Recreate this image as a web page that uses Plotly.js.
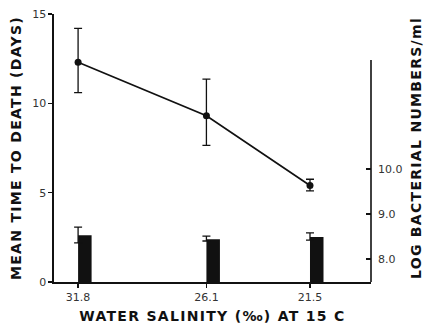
<!DOCTYPE html>
<html>
<head>
<meta charset="utf-8">
<script src="https://cdn.plot.ly/plotly-3.0.1.min.js"></script>
<style>
html,body{margin:0;padding:0;background:#fff;}
#chart{width:424px;height:331px;}
#chart .xtitle, #chart .ytitle, #chart .y2title{letter-spacing:1.3px;}
</style>
</head>
<body>
<div id="chart"></div>
<script>
// Data
const salinity = [31.8, 26.1, 21.5];
const salinityLabels = ['31.8', '26.1', '21.5'];
const deathMean = [12.3, 9.3, 5.4];
const deathUpper = [14.2, 11.35, 5.75];
const deathLower = [10.6, 7.65, 5.1];
const bactMean = [8.53, 8.44, 8.49];
const bactUpper = [8.71, 8.51, 8.58];
const bactLower = [8.36, 8.40, 8.42];
const leftTicks = [0, 5, 10, 15];
const rightTicks = [8, 9, 10];
const rightTickLabels = ['8.0', '9.0', '10.0'];

const diff = (a, b) => a.map((v, i) => v - b[i]);

const ink = '#111';
const tickFont = {family: 'DejaVu Sans', size: 11, color: '#333'};
const titleFont = {family: 'DejaVu Sans', size: 14, color: ink, weight: 'bold'};

// right axis scale: 8.0 at bottom offset, axis line drawn only up to Y2_LINE_TOP
const Y2_MIN = 7.489, Y2_MAX = 13.445, Y2_LINE_TOP = 12.42;

const traces = [
  {
    type: 'bar', x: salinity, y: bactMean, xaxis: 'x', yaxis: 'y2',
    width: 0.6, offset: -0.6,
    marker: {color: ink, line: {width: 0}},
    hoverinfo: 'skip', showlegend: false
  },
  {
    type: 'scatter', mode: 'markers', x: salinity, y: bactMean, xaxis: 'x', yaxis: 'y2',
    marker: {size: 1, color: 'rgba(0,0,0,0)'},
    error_y: {type: 'data', symmetric: false, array: diff(bactUpper, bactMean), arrayminus: diff(bactMean, bactLower),
      color: ink, thickness: 1.3, width: 4},
    showlegend: false
  },
  {
    type: 'scatter', mode: 'lines+markers', x: salinity, y: deathMean, xaxis: 'x', yaxis: 'y',
    line: {color: ink, width: 1.7},
    marker: {size: 7, color: ink},
    error_y: {type: 'data', symmetric: false, array: diff(deathUpper, deathMean), arrayminus: diff(deathMean, deathLower),
      color: ink, thickness: 1.3, width: 4},
    showlegend: false
  }
];

const layout = {
  width: 424, height: 331,
  margin: {l: 54, r: 53, t: 14, b: 49},
  paper_bgcolor: '#fff', plot_bgcolor: 'rgba(0,0,0,0)',
  showlegend: false,
  xaxis: {
    range: [32.87, 18.79], tickvals: salinity, ticktext: salinityLabels,
    showgrid: false, zeroline: false, showline: true, linecolor: ink, linewidth: 1.6,
    ticks: 'outside', ticklen: 4, tickcolor: ink, tickwidth: 1.2,
    tickfont: tickFont,
    title: {text: 'WATER SALINITY (‰) AT 15 C', font: titleFont, standoff: 8}
  },
  yaxis: {
    range: [0, 15], tickvals: leftTicks,
    showgrid: false, zeroline: false, showline: true, linecolor: ink, linewidth: 1.6,
    ticks: 'outside', ticklen: 4, tickcolor: ink, tickwidth: 1.2,
    tickfont: tickFont,
    title: {text: 'MEAN TIME TO DEATH (DAYS)', font: titleFont, standoff: 7}
  },
  yaxis2: {
    overlaying: 'y', side: 'right',
    range: [Y2_MIN, Y2_MAX], tickvals: rightTicks, ticktext: rightTickLabels,
    showgrid: false, zeroline: false, showline: false,
    ticks: 'inside', ticklen: 5, tickcolor: ink, tickwidth: 1.2,
    tickfont: tickFont, ticklabelstandoff: 6,
    title: {text: 'LOG BACTERIAL NUMBERS/ml', font: titleFont, standoff: 14}
  },
  shapes: [
    {type: 'line', xref: 'paper', yref: 'y2', x0: 1, x1: 1, y0: Y2_MIN, y1: Y2_LINE_TOP,
      line: {color: ink, width: 1.6}, layer: 'above'}
  ]
};

Plotly.newPlot('chart', traces, layout, {displayModeBar: false, staticPlot: true});
</script>
</body>
</html>
